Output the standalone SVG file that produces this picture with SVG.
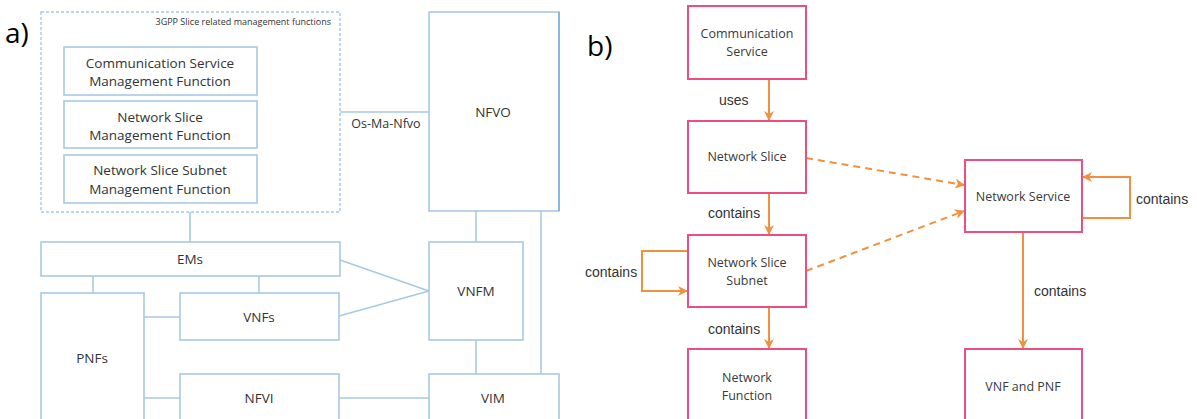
<svg xmlns="http://www.w3.org/2000/svg" width="1197" height="419" viewBox="0 0 1197 419">
<style>
.bg{fill:#fff}
.ba{fill:#fff;stroke:#a9c9e3;stroke-width:1.6}
.la{fill:none;stroke:#a9c9e3;stroke-width:1.6}
.ta{font-family:"Open Sans","Liberation Sans",sans-serif;font-size:13.5px;fill:#333;text-anchor:middle}
.big{font-family:"Open Sans","Liberation Sans",sans-serif;font-size:28px;fill:#000}
.bb{fill:#fff;stroke:#ec4f7f;stroke-width:2}
.tb{font-family:"Open Sans","Liberation Sans",sans-serif;font-size:12.5px;fill:#3a3a3a;text-anchor:middle}
.lb{font-family:"Liberation Sans",sans-serif;font-size:14px;fill:#333}
.ar{fill:none;stroke:#f0913f;stroke-width:2}
.da{fill:none;stroke:#f0913f;stroke-width:2;stroke-dasharray:7,5}
</style>
<defs>
<marker id="ah" viewBox="0 0 10 10" refX="9" refY="5" markerWidth="5" markerHeight="5" orient="auto" markerUnits="strokeWidth">
<path d="M0,0 L10,5 L0,10 L3,5 Z" fill="#f0913f"/>
</marker>
</defs>
<rect class="bg" x="0" y="0" width="1197" height="419"/>
<text class="big" x="5" y="43">a)</text>
<text class="big" x="587" y="56">b)</text>

<g id="connectors-a">
<line class="la" x1="340" y1="112" x2="429" y2="112"/>
<line class="la" x1="190" y1="212" x2="190" y2="242"/>
<line class="la" x1="93" y1="276" x2="93" y2="293"/>
<line class="la" x1="259" y1="276" x2="259" y2="293"/>
<line class="la" x1="144" y1="317" x2="180" y2="317"/>
<line class="la" x1="144" y1="398" x2="180" y2="398"/>
<line class="la" x1="339" y1="398" x2="429" y2="398"/>
<line class="la" x1="340" y1="260" x2="429" y2="291"/>
<line class="la" x1="339" y1="316" x2="429" y2="291"/>
<line class="la" x1="476" y1="211" x2="476" y2="242"/>
<line class="la" x1="476" y1="340" x2="476" y2="374"/>
<line class="la" x1="541" y1="211" x2="541" y2="374"/>
<text class="ta" x="386" y="128" style="font-size:12.5px">Os-Ma-Nfvo</text>
</g>

<g id="slice-mgmt">
<rect x="41" y="12" width="299" height="200" fill="none" stroke="#a9c9e3" stroke-width="1.4" stroke-dasharray="3,2"/>
<text class="ta" x="331" y="25" style="font-size:9px;text-anchor:end">3GPP Slice related management functions</text>
</g>
<g id="csmf"><rect class="ba" x="64" y="47" width="193" height="48"/><text class="ta" x="160" y="68">Communication Service</text><text class="ta" x="160" y="86">Management Function</text></g>
<g id="nsmf"><rect class="ba" x="64" y="101" width="193" height="47"/><text class="ta" x="160" y="122">Network Slice</text><text class="ta" x="160" y="140">Management Function</text></g>
<g id="nssmf"><rect class="ba" x="64" y="155" width="193" height="48"/><text class="ta" x="160" y="175">Network Slice Subnet</text><text class="ta" x="160" y="194">Management Function</text></g>
<g id="nfvo"><rect class="ba" x="429" y="12" width="130" height="199"/><line x1="559" y1="12" x2="559" y2="211" stroke="#7fb0d8" stroke-width="1.6"/><text class="ta" x="493" y="117">NFVO</text></g>
<g id="ems"><rect class="ba" x="41" y="242" width="299" height="34"/><text class="ta" x="190" y="264">EMs</text></g>
<g id="pnfs"><rect class="ba" x="41" y="293" width="103" height="140"/><text class="ta" x="92" y="363">PNFs</text></g>
<g id="vnfs"><rect class="ba" x="180" y="293" width="159" height="47"/><text class="ta" x="259" y="322">VNFs</text></g>
<g id="nfvi"><rect class="ba" x="180" y="374" width="159" height="60"/><text class="ta" x="259" y="403">NFVI</text></g>
<g id="vnfm"><rect class="ba" x="429" y="242" width="94" height="98"/><text class="ta" x="476" y="296">VNFM</text></g>
<g id="vim"><rect class="ba" x="429" y="374" width="130" height="60"/><text class="ta" x="493" y="403">VIM</text></g>

<g id="connectors-b">
<line class="ar" x1="769" y1="79" x2="769" y2="120" marker-end="url(#ah)"/>
<line class="ar" x1="769" y1="193" x2="769" y2="234" marker-end="url(#ah)"/>
<line class="ar" x1="769" y1="307" x2="769" y2="348" marker-end="url(#ah)"/>
<polyline class="ar" points="688,251 642,251 642,291 687,291" marker-end="url(#ah)"/>
<line class="da" x1="806" y1="158" x2="964" y2="185" marker-end="url(#ah)"/>
<line class="da" x1="806" y1="271" x2="964" y2="211" marker-end="url(#ah)"/>
<polyline class="ar" points="1082,218 1130,218 1130,177 1083,177" marker-end="url(#ah)"/>
<line class="ar" x1="1023" y1="232" x2="1023" y2="348" marker-end="url(#ah)"/>
<text class="lb" x="719" y="105">uses</text>
<text class="lb" x="708" y="218">contains</text>
<text class="lb" x="585" y="277">contains</text>
<text class="lb" x="708" y="334">contains</text>
<text class="lb" x="1136" y="204">contains</text>
<text class="lb" x="1034" y="296">contains</text>
</g>

<g id="comm-service"><rect class="bb" x="688" y="6" width="118" height="73"/><text class="tb" x="747" y="38">Communication</text><text class="tb" x="747" y="56">Service</text></g>
<g id="network-slice"><rect class="bb" x="688" y="121" width="118" height="72"/><text class="tb" x="747" y="161">Network Slice</text></g>
<g id="nss"><rect class="bb" x="688" y="235" width="118" height="72"/><text class="tb" x="747" y="267">Network Slice</text><text class="tb" x="747" y="285">Subnet</text></g>
<g id="network-function"><rect class="bb" x="688" y="349" width="118" height="80"/><text class="tb" x="747" y="382">Network</text><text class="tb" x="747" y="400">Function</text></g>
<g id="network-service"><rect class="bb" x="965" y="160" width="117" height="72"/><text class="tb" x="1023" y="201">Network Service</text></g>
<g id="vnf-pnf"><rect class="bb" x="965" y="349" width="117" height="80"/><text class="tb" x="1023" y="391">VNF and PNF</text></g>
</svg>
